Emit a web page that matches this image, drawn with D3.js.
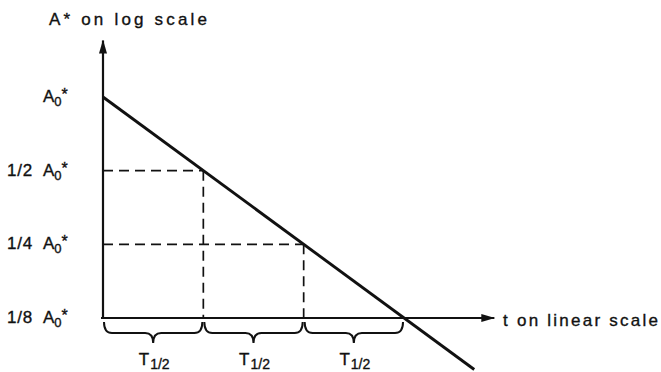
<!DOCTYPE html>
<html>
<head>
<meta charset="utf-8">
<script src="https://cdn.jsdelivr.net/npm/d3@7"></script>
<style>
  body { margin: 0; background: #fff; }
  svg { display: block; background: #fff; }
  text { font-family: "Liberation Sans", Arial, Helvetica, sans-serif; fill: #111; stroke: #111; stroke-width: 0.35; }
</style>
</head>
<body>
<svg id="chart" width="661" height="372"></svg>
<script>
// Elapsed time, in half-lives, at each halving of the activity
const halfLives = [0, 1, 2, 3];
// Activity relative to A0* at those times
const activityLevels = [1, 1 / 2, 1 / 4, 1 / 8];
const levelLabels = ["", "1/2", "1/4", "1/8"];
// Decay line on the semi-log plot: t in half-lives, A*/A0*
const decayT = [0, 3.7];
const decayA = [1, 0.077];
// Text
const yTitle = "A* on log scale";
const xTitle = "t on linear scale";
const braceMain = "T";
const braceSub = "1/2";
// How far each axis runs (in data units) before its arrowhead
const xAxisEnd = 3.9;
const yAxisTop = 1.7;

const svg = d3.select("#chart");
const ink = "#111";

const x = d3.scaleLinear().domain([0, 3]).range([103, 404]);
const y = d3.scaleLog().base(2).domain([1 / 8, 1]).range([318, 97]);

// Arrowheads
const defs = svg.append("defs");
defs.append("marker")
  .attr("id", "arrow")
  .attr("viewBox", "0 0 14 8")
  .attr("refX", 13).attr("refY", 4)
  .attr("markerWidth", 14).attr("markerHeight", 8)
  .attr("markerUnits", "userSpaceOnUse")
  .attr("orient", "auto")
  .append("path")
  .attr("d", "M0,0 L14,4 L0,8 Z")
  .attr("fill", ink);

// Axes
const x0 = x(0), yBase = y(activityLevels[activityLevels.length - 1]);
svg.append("line")
  .attr("x1", x0).attr("y1", yBase + 1)
  .attr("x2", x0).attr("y2", y(yAxisTop))
  .attr("stroke", ink).attr("stroke-width", 2.2)
  .attr("marker-end", "url(#arrow)");
svg.append("line")
  .attr("x1", x0 - 2).attr("y1", yBase)
  .attr("x2", x(xAxisEnd)).attr("y2", yBase)
  .attr("stroke", ink).attr("stroke-width", 2.2)
  .attr("marker-end", "url(#arrow)");

// Dashed guides at each half-life
const guides = svg.append("g")
  .attr("stroke", ink).attr("stroke-width", 1.7)
  .attr("stroke-dasharray", "10,6").attr("fill", "none");
halfLives.forEach((t, i) => {
  if (i === 0 || i === halfLives.length - 1) return;
  const lv = activityLevels[i];
  guides.append("line")
    .attr("x1", x0).attr("y1", y(lv))
    .attr("x2", x(t)).attr("y2", y(lv));
  guides.append("line")
    .attr("x1", x(t)).attr("y1", y(lv))
    .attr("x2", x(t)).attr("y2", yBase);
});

// Decay line
const decay = decayT.map((t, i) => ({ t, a: decayA[i] }));
svg.append("path")
  .datum(decay)
  .attr("fill", "none").attr("stroke", ink).attr("stroke-width", 2.9)
  .attr("d", d3.line().x(d => x(d.t)).y(d => y(d.a)));

// Braces under each half-life interval
function bracePath(a, b, top, mid, tip) {
  const m = (a + b) / 2, r = 8;
  return `M${a},${top} Q${a},${mid} ${a + r},${mid} L${m - r},${mid} ` +
         `Q${m},${mid} ${m},${tip} Q${m},${mid} ${m + r},${mid} ` +
         `L${b - r},${mid} Q${b},${mid} ${b},${top}`;
}
const braces = svg.append("g");
for (let i = 0; i < halfLives.length - 1; i++) {
  const a = x(halfLives[i]), b = x(halfLives[i + 1]);
  braces.append("path")
    .attr("d", bracePath(a + 1, b - 1, yBase + 4, yBase + 15, yBase + 25))
    .attr("fill", "none").attr("stroke", ink).attr("stroke-width", 2);
  const lab = braces.append("text")
    .attr("x", (a + b) / 2 + 1).attr("y", yBase + 47)
    .attr("text-anchor", "middle")
    .attr("font-size", 17);
  lab.append("tspan").text(braceMain);
  lab.append("tspan").attr("font-size", 14).attr("dy", 4).attr("dx", 1).text(braceSub);
}

// Activity labels on the vertical axis
activityLevels.forEach((lv, i) => {
  const yy = y(lv) + 5;
  if (levelLabels[i]) {
    svg.append("text")
      .attr("x", 7).attr("y", yy)
      .attr("font-size", 17).attr("letter-spacing", 0.8)
      .text(levelLabels[i]);
  }
  const t = svg.append("text")
    .attr("x", 43).attr("y", yy)
    .attr("font-size", 17);
  t.append("tspan").text("A");
  t.append("tspan").attr("font-size", 13).attr("dy", 4).text("0");
  t.append("tspan").attr("font-size", 16).attr("dx", 0).attr("dy", -6).text("*");
});

// Axis titles
svg.append("text")
  .attr("x", 49).attr("y", 25)
  .attr("font-size", 17)
  .attr("textLength", 158).attr("lengthAdjust", "spacing")
  .text(yTitle);
svg.append("text")
  .attr("x", 503).attr("y", 326)
  .attr("font-size", 17)
  .attr("textLength", 155).attr("lengthAdjust", "spacing")
  .text(xTitle);
</script>
</body>
</html>
